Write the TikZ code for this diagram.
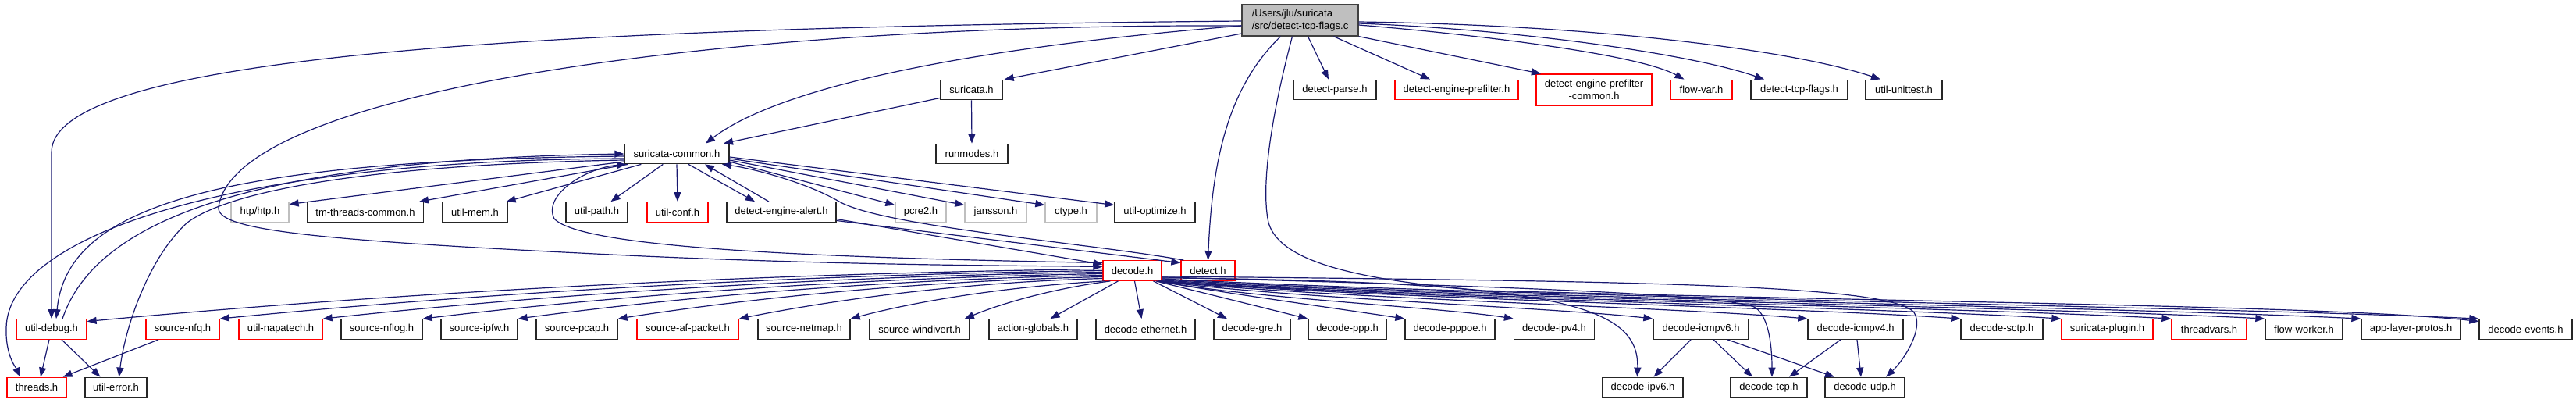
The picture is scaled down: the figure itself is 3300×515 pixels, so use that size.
\documentclass[tikz,border=0pt]{standalone}
\usepackage{fontspec}
\setmainfont{Liberation Sans}
\usetikzlibrary{arrows.meta,calc}
\definecolor{ecol}{HTML}{191970}
\definecolor{rootfill}{HTML}{BFBFBF}
\definecolor{grayb}{HTML}{BFBFBF}
\definecolor{redc}{HTML}{FF0000}
\newcommand\nodefont{\fontsize{13pt}{16pt}\selectfont}
\newcommand\edgeC[6]{%
  \draw[dep] let \p1=(#1), \p2=(#2) in
    (\p1) .. controls ({\x1+#3*(\x2-\x1)},{\y1+#4*(\y2-\y1)})
             and ({\x1+#5*(\x2-\x1)},{\y1+#6*(\y2-\y1)}) .. (\p2);}
\begin{document}
\begin{tikzpicture}[x=1pt,y=-1pt,
  dep/.style={draw=ecol, line width=1.2pt, -{Triangle[length=12pt,width=9pt]}},
  box/.style={draw, line width=1.3pt, fill=white, inner sep=0pt, minimum height=25.5pt, font=\nodefont, text=black, align=center},
  blk/.style={box, draw=black!85},
  redb/.style={box, draw=redc},
  gry/.style={box, draw=grayb},
  rootb/.style={box, fill=rootfill, draw=black!75, align=left}]
\useasboundingbox (0,0) rectangle (3300,515);

% row 1
\node[rootb, minimum width=149pt, minimum height=40pt] (R) at (1665.5,26) {/Users/jlu/suricata\\/src/detect-tcp-flags.c};
% row 2
\node[blk, minimum width=79pt] (SH) at (1244.5,115) {suricata.h};
\node[blk, minimum width=106pt] (DP) at (1710,115) {detect-parse.h};
\node[redb, minimum width=158pt] (DEP) at (1866,115) {detect-engine-prefilter.h};
\node[redb, minimum width=148pt, minimum height=40pt] (DEPC) at (2042,115) {detect-engine-prefilter\\-common.h};
\node[redb, minimum width=79pt] (FV) at (2179.5,115) {flow-var.h};
\node[blk, minimum width=124pt] (DTF) at (2305,115) {detect-tcp-flags.h};
\node[blk, minimum width=98pt] (UU) at (2439,115) {util-unittest.h};
% row 3
\node[blk, minimum width=134pt] (SC) at (867,197) {suricata-common.h};
\node[blk, minimum width=92pt] (RM) at (1245,197) {runmodes.h};
% row 4
\node[gry, minimum width=74pt] (HTP) at (333,271.5) {htp/htp.h};
\node[blk, minimum width=149pt] (TTC) at (468,271.5) {tm-threads-common.h};
\node[blk, minimum width=83pt] (UM) at (608.5,271.5) {util-mem.h};
\node[blk, minimum width=79pt] (UP) at (764.5,271.5) {util-path.h};
\node[redb, minimum width=78pt] (UC) at (868,271.5) {util-conf.h};
\node[blk, minimum width=140pt] (DEA) at (1001,271.5) {detect-engine-alert.h};
\node[gry, minimum width=65pt] (P2) at (1179.5,271.5) {pcre2.h};
\node[gry, minimum width=79pt] (JA) at (1275.5,271.5) {jansson.h};
\node[gry, minimum width=66pt] (CT) at (1372,271.5) {ctype.h};
\node[blk, minimum width=103pt] (UO) at (1479.5,271.5) {util-optimize.h};
% row 5
\node[redb, minimum width=75pt] (DH) at (1450.5,346.5) {decode.h};
\node[redb, minimum width=69pt] (DT) at (1547.5,346.5) {detect.h};
% row 6
\node[redb, minimum width=90pt] (UD) at (66,421.5) {util-debug.h};
\node[redb, minimum width=94pt] (SN) at (234,421.5) {source-nfq.h};
\node[redb, minimum width=107pt] (NAP) at (359.5,421.5) {util-napatech.h};
\node[blk, minimum width=104pt] (NFL) at (489,421.5) {source-nflog.h};
\node[blk, minimum width=98pt] (IPFW) at (614,421.5) {source-ipfw.h};
\node[blk, minimum width=104pt] (PCAP) at (739,421.5) {source-pcap.h};
\node[redb, minimum width=130pt] (AFP) at (881,421.5) {source-af-packet.h};
\node[blk, minimum width=118pt] (NM) at (1030,421.5) {source-netmap.h};
\node[blk, minimum width=128pt] (WD) at (1178,421.5) {source-windivert.h};
\node[blk, minimum width=113pt] (AG) at (1323.5,421.5) {action-globals.h};
\node[blk, minimum width=127pt] (ETH) at (1467.5,421.5) {decode-ethernet.h};
\node[blk, minimum width=98pt] (GRE) at (1604,421.5) {decode-gre.h};
\node[blk, minimum width=100pt] (PPP) at (1726,421.5) {decode-ppp.h};
\node[blk, minimum width=115pt] (PPPOE) at (1857.5,421.5) {decode-pppoe.h};
\node[blk, minimum width=103pt] (IPV4) at (1991,421.5) {decode-ipv4.h};
\node[blk, minimum width=122pt] (ICMP6) at (2179,421.5) {decode-icmpv6.h};
\node[blk, minimum width=122pt] (ICMP4) at (2377,421.5) {decode-icmpv4.h};
\node[blk, minimum width=105pt] (SCTP) at (2564.5,421.5) {decode-sctp.h};
\node[redb, minimum width=117pt] (PLUG) at (2699.5,421.5) {suricata-plugin.h};
\node[redb, minimum width=96pt] (TV) at (2830,421.5) {threadvars.h};
\node[blk, minimum width=99pt] (FW) at (2951.5,421.5) {flow-worker.h};
\node[blk, minimum width=127pt] (ALP) at (3088.5,421.5) {app-layer-protos.h};
\node[blk, minimum width=119pt] (DE) at (3235.5,421.5) {decode-events.h};
% row 7
\node[redb, minimum width=76pt] (TH) at (47,496) {threads.h};
\node[blk, minimum width=79pt] (UE) at (148.5,496) {util-error.h};
\node[blk, minimum width=103pt] (IPV6) at (2104.5,496) {decode-ipv6.h};
\node[blk, minimum width=98pt] (TCP) at (2266,496) {decode-tcp.h};
\node[blk, minimum width=102pt] (UDP) at (2389,496) {decode-udp.h};

% ---- edges from root
\draw[dep] ([yshift=-1pt]R.west) .. controls (700,35) and (66,70) .. (66,195) -- (UD.north);
\draw[dep] ([yshift=-7pt]R.west) .. controls (900,30) and (300,120) .. (280,265)
   .. controls (276,295) and (400,308) .. (825,328) .. controls (1100,340) and (1300,340) .. ([yshift=5pt]DH.west);
\draw[dep] ([yshift=-7pt]R.west) .. controls (1250,60) and (1000,110) .. ([xshift=37pt]SC.north);
\draw[dep] ([yshift=-17pt]R.west) -- ([xshift=2pt]SH.north east);
\draw[dep] ([xshift=-25pt]R.south) .. controls (1575,110) and (1553,200) .. (DT.north);
\draw[dep] ([xshift=-10pt]R.south) .. controls (1628,150) and (1615,240) .. (1625,285)
   .. controls (1640,340) and (1760,360) .. (1900,372) .. controls (2500,388) and (3000,392) .. ([yshift=10pt]DE.west);
\draw[dep] ([xshift=10pt]R.south) -- ([xshift=-8pt]DP.north);
\draw[dep] ([xshift=43pt]R.south) -- ([xshift=-34pt]DEP.north);
\draw[dep] (R.south east) -- ([xshift=-68pt]DEPC.north);
\draw[dep] ([yshift=-6pt]R.east) .. controls (1900,45) and (2100,70) .. ([xshift=-22pt]FV.north);
\draw[dep] ([yshift=-4pt]R.east) .. controls (1950,38) and (2170,70) .. ([xshift=-45pt]DTF.north);
\draw[dep] ([yshift=-2pt]R.east) .. controls (2050,32) and (2300,65) .. ([xshift=-30pt]UU.north);

% ---- suricata.h
\draw[dep] ([yshift=3pt]SH.south west) -- ([xshift=60pt]SC.north);
\draw[dep] (SH.south) -- (RM.north);

% ---- suricata-common.h
\draw[dep] ([yshift=-10pt]SC.west) -- ([yshift=10pt]HTP.east);
\draw[dep] ([xshift=5pt]SC.south west) -- ([xshift=69pt]TTC.north);
\draw[dep] ([xshift=22pt]SC.south west) -- ([xshift=-2pt]UM.north east);
\draw[dep] ([xshift=50pt]SC.south west) -- ([xshift=18pt]UP.north);
\draw[dep] (SC.south) -- (UC.north);
\draw[dep] ([xshift=15pt]SC.south) -- ([xshift=-34pt]DEA.north);
\draw[dep] ([xshift=-16pt]DEA.north) -- ([xshift=36pt]SC.south);
\draw[dep] ([yshift=-10pt]SC.east) -- ([yshift=9pt]P2.west);
\draw[dep] ([yshift=-8pt]SC.east) -- ([yshift=9pt]JA.west);
\draw[dep] ([yshift=-6pt]SC.east) -- ([yshift=9pt]CT.west);
\draw[dep] ([yshift=-4pt]SC.east) -- ([yshift=9pt]UO.west);
\draw[dep] ([yshift=-6pt]SC.west) .. controls (300,205) and (10,300) .. (8,420)
   .. controls (7,455) and (20,470) .. ([xshift=-21pt]TH.north);
\draw[dep] ([yshift=-3pt]SC.west) .. controls (260,205) and (85,270) .. ([xshift=6pt]UD.north);
\draw[dep] ([xshift=14pt]UD.north) .. controls (120,290) and (300,205) .. (SC.west);
\draw[dep] ([yshift=-8pt]SC.west) .. controls (500,210) and (300,240) .. (240,285)
   .. controls (190,330) and (160,420) .. ([xshift=4pt]UE.north);

% ---- back edges into suricata-common.h
\draw[dep] ([yshift=10pt]DH.west) .. controls (1050,330) and (745,318) .. (710,280)
   .. controls (695,250) and (750,215) .. ([xshift=3pt]SC.south west);
\draw[dep] ([xshift=4pt]DT.north west) .. controls (1400,312) and (1130,290) .. (1075,258)
   .. controls (1030,232) and (960,215) .. ([xshift=58pt]SC.south);

% ---- detect-engine-alert.h
\draw[dep] ([yshift=-9pt]DEA.east) -- ([yshift=8pt]DH.west);
\draw[dep] ([yshift=-11pt]DEA.east) -- ([yshift=10pt]DT.west);

% ---- decode.h fan, left
\edgeC{[yshift=2pt]DH.west}{[yshift=10pt]UD.east}{0.4}{0.1}{0.75}{0.55}
\edgeC{DH.west}{SN.north east}{0.4}{0.1}{0.75}{0.55}
\edgeC{[yshift=-2pt]DH.west}{NAP.north east}{0.4}{0.1}{0.75}{0.55}
\edgeC{[yshift=-4pt]DH.west}{NFL.north east}{0.4}{0.1}{0.75}{0.55}
\edgeC{[yshift=-6pt]DH.west}{IPFW.north east}{0.4}{0.1}{0.75}{0.55}
\edgeC{[yshift=-8pt]DH.west}{PCAP.north east}{0.4}{0.1}{0.75}{0.55}
\edgeC{[yshift=-10pt]DH.west}{AFP.north east}{0.4}{0.1}{0.75}{0.55}
\edgeC{[xshift=3pt]DH.south west}{NM.north east}{0.4}{0.15}{0.75}{0.55}
\edgeC{[xshift=10pt]DH.south west}{[xshift=-7pt]WD.north east}{0.4}{0.2}{0.75}{0.6}
\draw[dep] ([xshift=20pt]DH.south west) -- ([xshift=22pt]AG.north);
\draw[dep] ([xshift=3pt]DH.south) -- ([xshift=-5pt]ETH.north);
\draw[dep] ([xshift=27pt]DH.south) -- ([xshift=-32pt]GRE.north);
% ---- decode.h fan, right (leaving from the lower right corner)
\edgeC{[xshift=-8pt]DH.south east}{PPP.north west}{0.3}{0.3}{0.7}{0.7}
\edgeC{[xshift=-6pt]DH.south east}{PPPOE.north west}{0.3}{0.35}{0.7}{0.7}
\edgeC{[xshift=-5pt]DH.south east}{IPV4.north west}{0.25}{0.45}{0.8}{0.7}
\edgeC{[xshift=-4pt]DH.south east}{ICMP6.north west}{0.25}{0.45}{0.8}{0.7}
\edgeC{[xshift=-3pt]DH.south east}{ICMP4.north west}{0.25}{0.45}{0.8}{0.7}
\edgeC{[xshift=-2pt]DH.south east}{SCTP.north west}{0.25}{0.45}{0.8}{0.7}
\edgeC{[xshift=-1pt]DH.south east}{PLUG.north west}{0.25}{0.45}{0.8}{0.7}
\edgeC{DH.south east}{TV.north west}{0.25}{0.45}{0.8}{0.7}
\edgeC{[yshift=1pt]DH.south east}{FW.north west}{0.25}{0.45}{0.8}{0.7}
\edgeC{[yshift=2pt]DH.south east}{ALP.north west}{0.25}{0.45}{0.8}{0.7}
\edgeC{[yshift=3pt]DH.south east}{DE.north west}{0.25}{0.45}{0.8}{0.7}
\draw[dep] ([yshift=4pt]DH.south east) .. controls (2000,360) and (2100,392) .. ([xshift=-7pt]IPV6.north);
\draw[dep] ([yshift=5pt]DH.south east) .. controls (1900,366) and (2180,375) .. (2245,392)
   .. controls (2265,400) and (2270,440) .. ([xshift=4pt]TCP.north);
\draw[dep] ([yshift=6pt]DH.south east) .. controls (2100,360) and (2420,364) .. (2452,400)
   .. controls (2465,420) and (2440,460) .. ([xshift=27pt]UDP.north);

% ---- lower level
\draw[dep] ([xshift=-13pt]ICMP6.south) -- ([xshift=14pt]IPV6.north);
\draw[dep] ([xshift=16pt]ICMP6.south) -- ([xshift=-21pt]TCP.north);
\draw[dep] ([xshift=34pt]ICMP6.south) -- ([xshift=-39pt]UDP.north);
\draw[dep] ([xshift=-19pt]ICMP4.south) -- ([xshift=26pt]TCP.north);
\draw[dep] ([xshift=2pt]ICMP4.south) -- ([xshift=-5pt]UDP.north);
\draw[dep] ([xshift=-3pt]UD.south) -- ([xshift=5pt]TH.north);
\draw[dep] ([xshift=13pt]UD.south) -- ([xshift=-20pt]UE.north);
\draw[dep] ([xshift=-31pt]SN.south) -- ([xshift=-5pt]TH.north east);
\end{tikzpicture}
\end{document}
